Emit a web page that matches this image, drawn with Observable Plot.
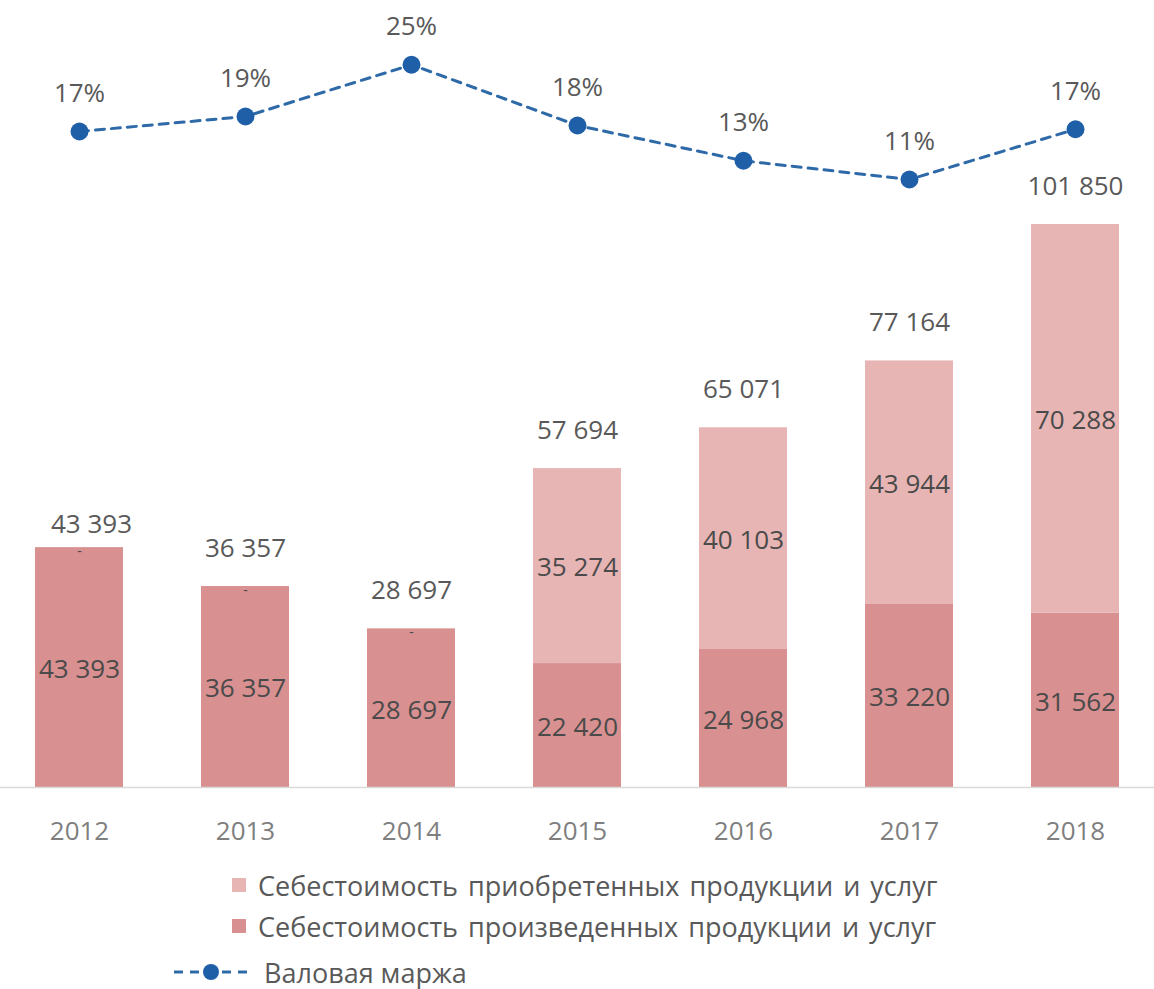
<!DOCTYPE html>
<html>
<head>
<meta charset="utf-8">
<script src="https://cdn.jsdelivr.net/npm/d3@7"></script>
<script src="https://cdn.jsdelivr.net/npm/@observablehq/plot@0.6"></script>
<style>
  body { margin: 0; background: #fff; font-family: "Open Sans", sans-serif; }
  #chart svg { display: block; }
  .legend { position: relative; height: 129px; width: 1154px; color: #595959; font-size: 27px; }
  .row { position: absolute; display: flex; align-items: center; height: 32px; white-space: nowrap; }
  .sw { width: 14px; height: 14px; margin-right: 12px; }
  .txt { word-spacing: 3px; }
</style>
</head>
<body>
<div id="chart"></div>
<div class="legend">
  <div class="row" style="left:232px; top:9px;"><div class="sw" style="background:#e8b5b5"></div><span class="txt">Себестоимость приобретенных продукции и услуг</span></div>
  <div class="row" style="left:232px; top:50px;"><div class="sw" style="background:#d99090"></div><span class="txt">Себестоимость произведенных продукции и услуг</span></div>
  <div class="row" style="left:172px; top:96px;">
    <svg width="80" height="30" style="margin-right:12px"><line x1="2" y1="15" x2="76" y2="15" stroke="#2e6aa8" stroke-width="3" stroke-dasharray="9,7"/><circle cx="39" cy="15" r="8" fill="#1f5fa8"/></svg>
    <span>Валовая маржа</span></div>
</div>
<script>
const years = ["2012", "2013", "2014", "2015", "2016", "2017", "2018"];
const produced = [43393, 36357, 28697, 22420, 24968, 33220, 31562];
const purchased = [0, 0, 0, 35274, 40103, 43944, 70288];
const totals = [43393, 36357, 28697, 57694, 65071, 77164, 101850];
const margin = [17.0, 19.0, 25.9, 17.8, 13.1, 10.6, 17.3];
const marginLabels = ["17%", "19%", "25%", "18%", "13%", "11%", "17%"];

const fmt = d3.formatLocale({thousands: "\u00a0", grouping: [3], decimal: ","}).format(",d");

const segs = [];
years.forEach((y, i) => {
  segs.push({year: y, series: "produced", y1: 0, y2: produced[i], v: produced[i]});
  segs.push({year: y, series: "purchased", y1: produced[i], y2: produced[i] + purchased[i], v: purchased[i]});
});
const totalRows = years.map((y, i) => ({year: y, total: totals[i]}));
// secondary (percent) axis mapped into the bar scale
const pct = d3.scaleLinear().domain([17, 18]).range([118668, 118668 + 1356.7]);
const marginRows = years.map((y, i) => ({year: y, m: margin[i], yv: pct(margin[i]), label: marginLabels[i]}));

const plot = Plot.plot({
  width: 1154,
  height: 860,
  marginLeft: 0,
  marginRight: 0,
  marginTop: 0,
  marginBottom: 73,
  style: {fontFamily: "Open Sans, sans-serif", background: "#fff"},
  x: {domain: years, paddingInner: 0.47, paddingOuter: 0.205, label: null},
  y: {domain: [0, 142366], axis: null},
  color: {domain: ["produced", "purchased"], range: ["#d99090", "#e8b5b5"]},
  marks: [
    Plot.barY(segs, {x: "year", y1: "y1", y2: "y2", fill: "series"}),
    Plot.ruleY([0], {stroke: "#d9d9d9", strokeWidth: 1.5}),
    Plot.axisX({tickSize: 0, tickPadding: 34, fontSize: 26, color: "#7f7f7f", label: null}),
    Plot.text(segs.filter(d => d.v > 0), {x: "year", y: d => (d.y1 + d.y2) / 2, text: d => fmt(d.v), fontSize: 26, fill: "#4a4a4a", dy: 2}),
    Plot.text(segs.filter(d => d.v === 0), {x: "year", y: "y2", text: () => "-", fontSize: 14, fill: "#4a4a4a", dy: 4}),
    Plot.text(totalRows.filter(d => d.year !== "2012"), {x: "year", y: "total", text: d => fmt(d.total), fontSize: 26, fill: "#595959", dy: -38}),
    Plot.text(totalRows.filter(d => d.year === "2012"), {x: "year", y: "total", text: d => fmt(d.total), fontSize: 26, fill: "#595959", dy: -23, dx: 12}),
    Plot.line(marginRows, {x: "year", y: "yv", stroke: "#2e6aa8", strokeWidth: 3, strokeDasharray: "9,7"}),
    Plot.dot(marginRows, {x: "year", y: "yv", r: 9, fill: "#1f5fa8"}),
    Plot.text(marginRows, {x: "year", y: "yv", text: "label", fontSize: 26, fill: "#595959", dy: -38})
  ]
});
document.getElementById("chart").appendChild(plot);
</script>
</body>
</html>
